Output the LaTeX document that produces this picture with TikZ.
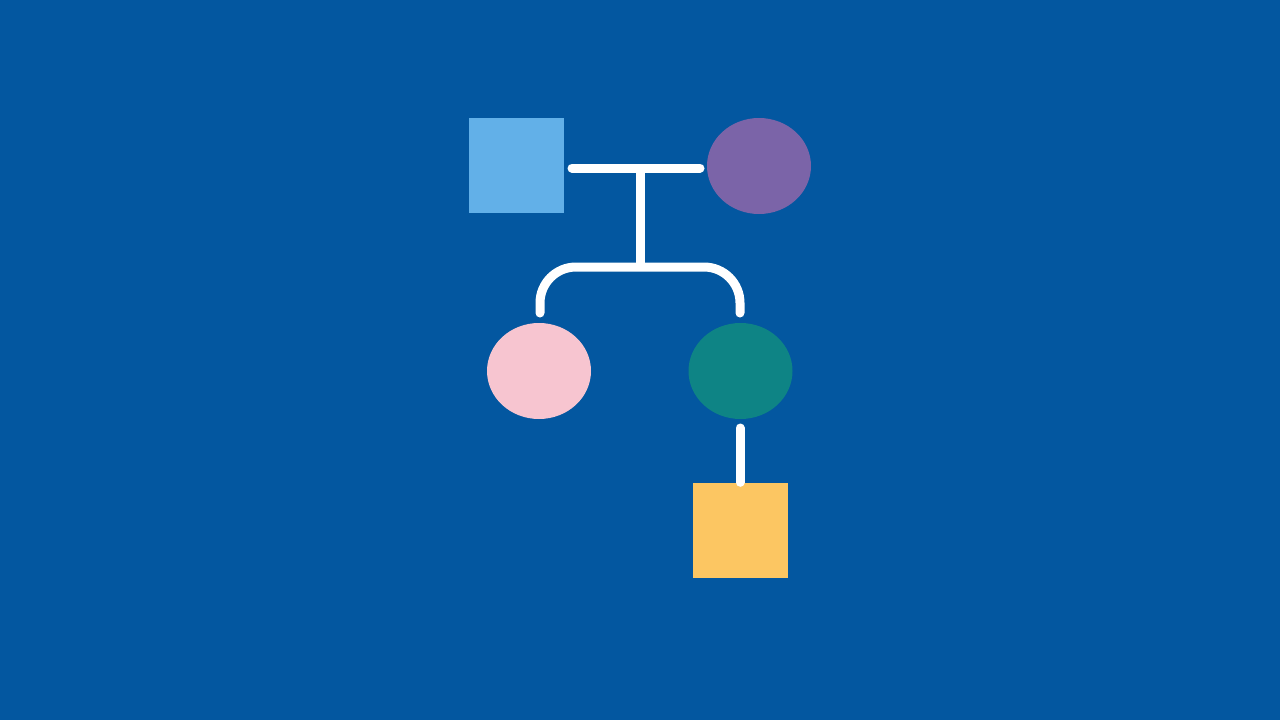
\documentclass[tikz,border=0pt]{standalone}
\usetikzlibrary{shapes.geometric}
\definecolor{bg}{HTML}{0357A0}
\definecolor{sqblue}{HTML}{62B0E8}
\definecolor{purp}{HTML}{7B64A8}
\definecolor{pinkc}{HTML}{F7C5D0}
\definecolor{tealc}{HTML}{0E8485}
\definecolor{yellowc}{HTML}{FCC662}
\tikzset{
  sqnode/.style={rectangle, draw=none, inner sep=0pt, minimum width=95pt, minimum height=95pt},
  elnode/.style={ellipse, draw=none, inner sep=0pt, minimum width=104pt, minimum height=96pt},
  link/.style={draw=white, line width=9pt, line cap=round, line join=round},
}
\begin{document}
\begin{tikzpicture}[x=1pt,y=-1pt]
\fill[bg] (0,0) rectangle (1280,720);
\useasboundingbox (0,0) rectangle (1280,720);
\node[sqnode, fill=sqblue] (father) at (516.5,165) {};
\node[elnode, fill=purp] (mother) at (759,166) {};
\node[elnode, fill=pinkc] (child1) at (539,371) {};
\node[elnode, fill=tealc] (child2) at (740.5,371) {};
\node[sqnode, fill=yellowc] (grand) at (740,530) {};
\coordinate (mL) at (572,168);
\coordinate (mR) at (700,168);
\coordinate (mid) at (640,168);
\coordinate (bar) at (640,267);
\coordinate (c1top) at (540,313);
\coordinate (c2top) at (740,313);
\coordinate (gline) at (740,428);
\draw[link] (mL) -- (mR);
\draw[link, line cap=butt] (mid) -- (bar);
\draw[link, rounded corners=36pt] (c1top) -- (540,267) -- (740,267) -- (c2top);
\draw[link] (gline) -- (grand.north);
\end{tikzpicture}
\end{document}
